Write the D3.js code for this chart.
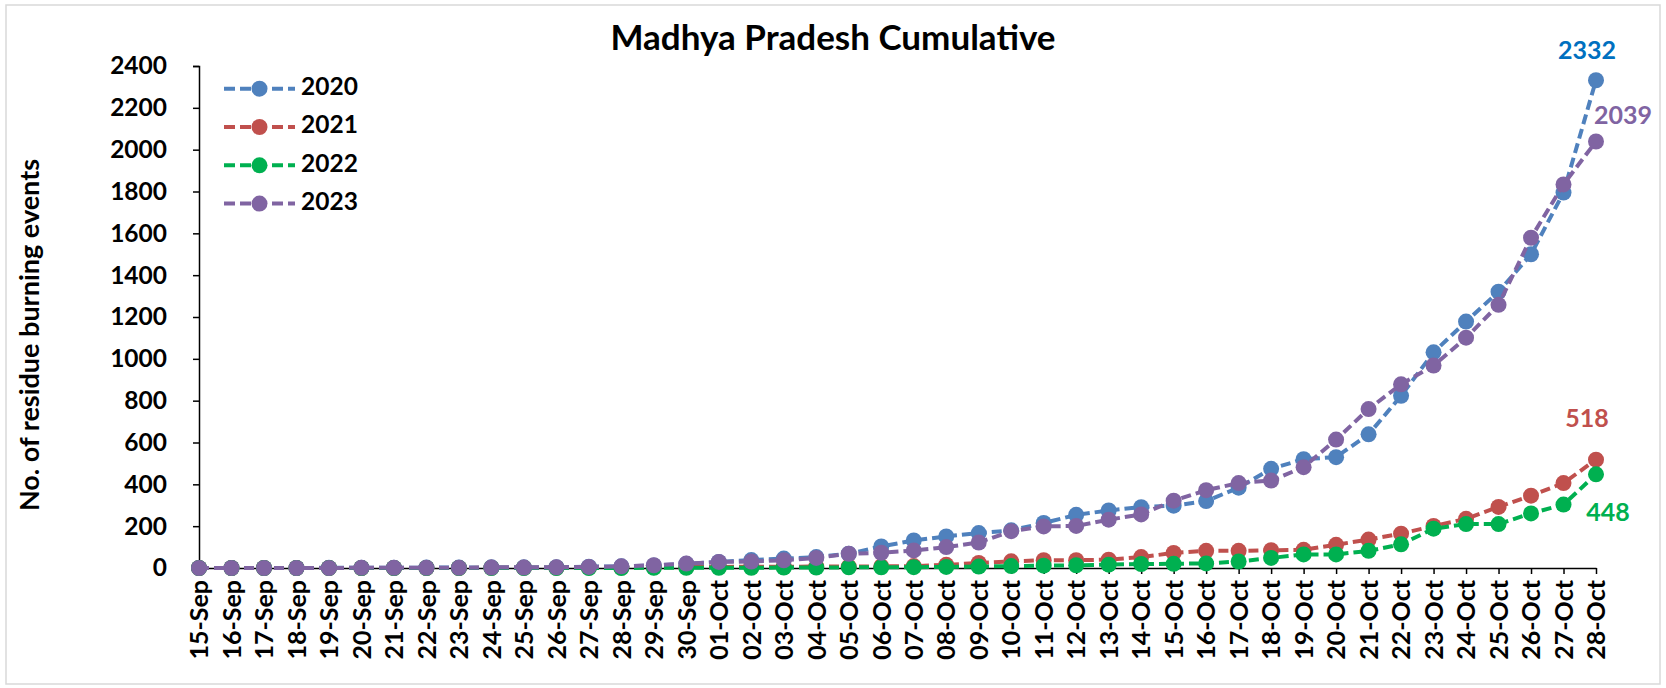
<!DOCTYPE html>
<html>
<head>
<meta charset="utf-8">
<script src="https://cdn.jsdelivr.net/npm/d3@7"></script>
<style>
    body { margin: 0; background: #fff; }
    text { font-family: Lato, "Open Sans", sans-serif; font-weight: 700; }
    .line { fill: none; stroke-width: 4; stroke-dasharray: 10, 5; }
</style>
</head>
<body>
<div id="chart"></div>
<script>
const width = 1666
const height = 688
const margin = { top: 66, bottom: 120, left: 199, right: 70 }

// data
const dates = ["15-Sep","16-Sep","17-Sep","18-Sep","19-Sep","20-Sep","21-Sep","22-Sep","23-Sep","24-Sep","25-Sep","26-Sep","27-Sep","28-Sep","29-Sep","30-Sep",
    "01-Oct","02-Oct","03-Oct","04-Oct","05-Oct","06-Oct","07-Oct","08-Oct","09-Oct","10-Oct","11-Oct","12-Oct","13-Oct","14-Oct",
    "15-Oct","16-Oct","17-Oct","18-Oct","19-Oct","20-Oct","21-Oct","22-Oct","23-Oct","24-Oct","25-Oct","26-Oct","27-Oct","28-Oct"]
const y2020 = [0,0,0,0,1,1,1,2,2,3,3,4,6,8,12,20,
    29,38,45,52,68,103,132,151,167,180,215,254,275,291,298,320,384,474,520,530,639,823,1031,1178,1321,1500,1795,2332]
const y2021 = [0,0,0,0,0,0,0,0,0,1,1,1,2,2,3,4,
    5,6,6,7,7,8,9,15,24,32,37,37,40,52,72,82,82,85,87,111,136,164,201,235,292,346,406,518]
const y2022 = [0,0,0,0,0,0,0,0,0,0,0,0,0,0,1,1,
    1,1,2,2,3,3,4,5,7,9,11,13,16,19,20,22,31,48,65,65,82,113,188,210,210,261,303,448]
const y2023 = [0,0,0,0,0,1,1,1,1,2,2,3,5,8,13,21,
    29,31,37,48,68,73,84,100,122,176,199,201,231,256,322,372,406,418,482,614,760,878,968,1101,1258,1579,1834,2039]
const yTicks = [0,200,400,600,800,1000,1200,1400,1600,1800,2000,2200,2400]
const seriesNames = ["2020","2021","2022","2023"]

const colors = ["#4F81BD", "#C0504D", "#00B050", "#8064A2"]
const labelColors = ["#0070C0", "#C0504D", "#00B050", "#8064A2"]
// offsets of the end labels from the last point
const labelOffsets = [[-9, -28], [-9, -39], [12, 40], [27, -24]]

const series = seriesNames.map((name, i) => ({
    name: name,
    values: [y2020, y2021, y2022, y2023][i].map((v, j) => ({ date: dates[j], value: v }))
}))

const svg = d3.select("div#chart").append("svg").attr("width", width).attr("height", height)

svg.append("rect").attr("x", 6).attr("y", 5).attr("width", 1654).attr("height", 679)
    .attr("fill", "#fff").attr("stroke", "#d9d9d9").attr("stroke-width", 1.5)

const x = d3.scalePoint().domain(dates).range([margin.left, width - margin.right])
const y = d3.scaleLinear().domain([0, 2400]).range([568, margin.top])

const xAxisGroup = svg.append("g").attr("transform", `translate(0, ${y(0)})`)
const yAxisGroup = svg.append("g").attr("transform", `translate(${margin.left}, 0)`)

yAxisGroup.call(d3.axisLeft(y).tickValues(yTicks).tickFormat(d3.format("d")).tickSize(6).tickPadding(26))
yAxisGroup.selectAll("text").attr("font-size", 24.5).attr("fill", "#000")
yAxisGroup.selectAll("line, path").attr("stroke", "#000").attr("stroke-width", 1.5)

xAxisGroup.call(d3.axisBottom(x).tickSize(6).tickSizeOuter(0))
xAxisGroup.selectAll("line, path").attr("stroke", "#000").attr("stroke-width", 1.5)
xAxisGroup.selectAll("text")
    .attr("font-size", 25).attr("fill", "#000")
    .attr("transform", "rotate(-90)")
    .attr("x", -12).attr("y", 0).attr("dy", "0.35em")
    .attr("text-anchor", "end")

const line = d3.line().x(d => x(d.date)).y(d => y(d.value))

const groups = svg.selectAll("g.series").data(series).enter().append("g").attr("class", "series")
groups.append("path")
    .attr("class", "line")
    .attr("stroke", (d, i) => colors[i])
    .attr("d", d => line(d.values))
groups.each(function(s, i) {
    d3.select(this).selectAll("circle").data(s.values).enter().append("circle")
        .attr("cx", d => x(d.date)).attr("cy", d => y(d.value)).attr("r", 8)
        .attr("fill", colors[i])
})

// end labels
groups.append("text")
    .attr("x", (d, i) => x(dates[dates.length - 1]) + labelOffsets[i][0])
    .attr("y", (d, i) => y(d.values[d.values.length - 1].value) + labelOffsets[i][1])
    .attr("text-anchor", "middle").attr("dominant-baseline", "middle")
    .attr("font-size", 25)
    .attr("fill", (d, i) => labelColors[i])
    .text(d => d.values[d.values.length - 1].value)

// title
svg.append("text").text("Madhya Pradesh Cumulative")
    .attr("x", 833).attr("y", 50).attr("text-anchor", "middle")
    .attr("font-size", 35)

svg.append("text").text("No. of residue burning events")
    .attr("transform", "translate(32, 335) rotate(-90)")
    .attr("text-anchor", "middle").attr("dominant-baseline", "middle")
    .attr("font-size", 27)

// legend
const legend = svg.append("g").attr("transform", "translate(224, 88.7)")
seriesNames.forEach((name, i) => {
    const g = legend.append("g").attr("transform", `translate(0, ${i * 38.3})`)
    g.append("line").attr("x1", 0).attr("x2", 71).attr("y1", 0).attr("y2", 0)
        .attr("stroke", colors[i]).attr("stroke-width", 4).attr("stroke-dasharray", "11,5")
    g.append("circle").attr("cx", 35.5).attr("cy", 0).attr("r", 8).attr("fill", colors[i])
    g.append("text").attr("x", 77).attr("y", 0).attr("dominant-baseline", "middle")
        .attr("font-size", 24.5).text(name)
})
</script>
</body>
</html>
